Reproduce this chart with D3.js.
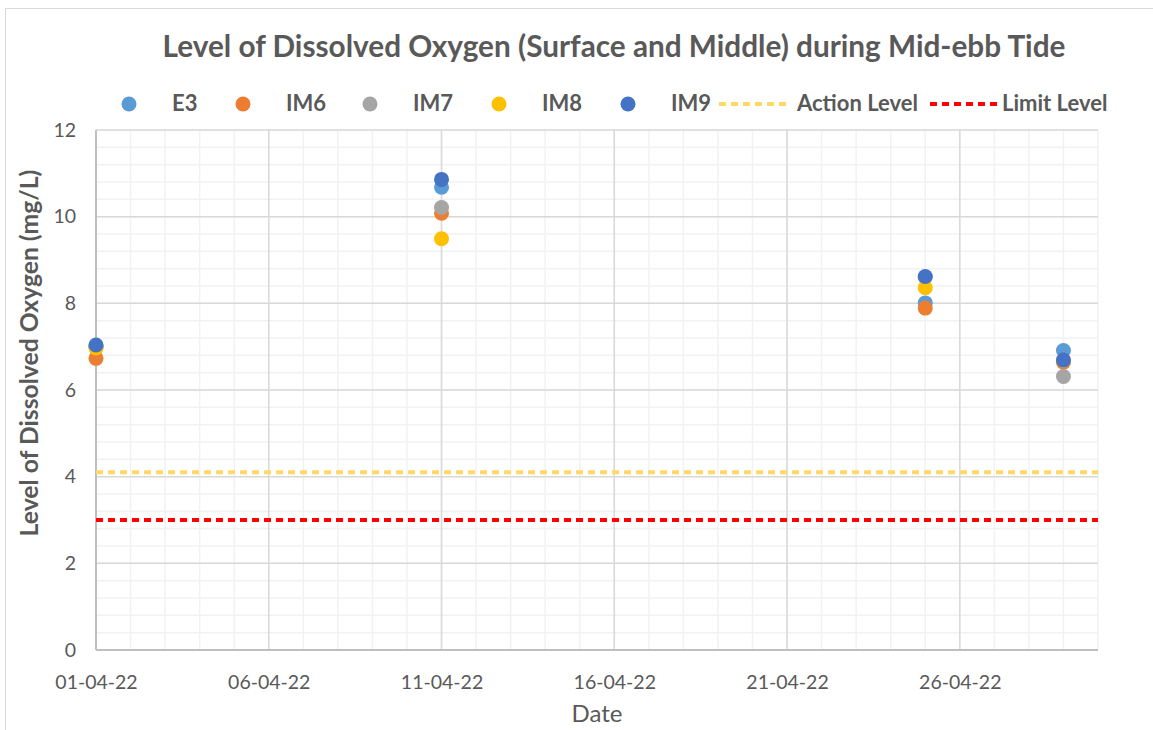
<!DOCTYPE html>
<html>
<head>
<meta charset="utf-8">
<script src="https://cdn.jsdelivr.net/npm/d3@7"></script>
<style>
  body { margin: 0; background: #fff; }
  text { font-family: Lato, "Open Sans", sans-serif; fill: #595959; }
</style>
</head>
<body>
<svg id="chart" width="1153" height="730"></svg>
<script>
// sampling dates
var dates = ["2022-04-01", "2022-04-11", "2022-04-25", "2022-04-29"];

// dissolved oxygen per station (mg/L)
var e3   = [7.00, 10.68, 8.01, 6.91];
var im6  = [6.73, 10.08, 7.89, 6.64];
var im7  = [6.98, 10.21, 8.60, 6.31];
var im8  = [6.97, 9.49, 8.36, 6.68];
var im9  = [7.04, 10.86, 8.62, 6.69];

var actionLevel = 4.1;
var limitLevel = 3;

var yTicks = [0, 2, 4, 6, 8, 10, 12];
var xTickLabels = ["01-04-22", "06-04-22", "11-04-22", "16-04-22", "21-04-22", "26-04-22"];

var stations = [
  {name: "E3",  values: e3,  color: "#5b9bd5"},
  {name: "IM6", values: im6, color: "#ed7d31"},
  {name: "IM7", values: im7, color: "#a5a5a5"},
  {name: "IM8", values: im8, color: "#ffc000"},
  {name: "IM9", values: im9, color: "#4472c4"}
];

var parse = d3.timeParse("%Y-%m-%d");
var parseTick = d3.timeParse("%d-%m-%y");
var fmt = d3.timeFormat("%d-%m-%y");

var svg = d3.select("#chart");

// shrink/grow a text so it spans the given width
function fitWidth(sel, w) {
  var fs = parseFloat(sel.style("font-size"));
  var len = sel.node().getComputedTextLength();
  sel.style("font-size", (fs * w / len) + "px");
}

// chart frame
svg.append("rect")
  .attr("x", 5.5).attr("y", 8.5)
  .attr("width", 1160).attr("height", 740)
  .attr("fill", "none")
  .attr("stroke", "#d9d9d9");

var pLeft = 96, pRight = 1098, pTop = 130, pBottom = 650;

var x = d3.scaleTime()
  .domain([parse("2022-04-01"), parse("2022-04-30")])
  .range([pLeft, pRight]);

var y = d3.scaleLinear()
  .domain([0, 12])
  .range([pBottom, pTop]);

// minor grid
var g = svg.append("g");
g.selectAll(".vminor")
  .data(d3.timeDay.range(parse("2022-04-02"), parse("2022-05-01")))
  .enter().append("line")
  .attr("x1", d => x(d)).attr("x2", d => x(d))
  .attr("y1", pTop).attr("y2", pBottom)
  .attr("stroke", "#f2f2f2").attr("stroke-width", 1.5);

g.selectAll(".hminor")
  .data(d3.range(0.4, 12.01, 0.4))
  .enter().append("line")
  .attr("x1", pLeft).attr("x2", pRight)
  .attr("y1", d => y(d)).attr("y2", d => y(d))
  .attr("stroke", "#f2f2f2").attr("stroke-width", 1.5);

// major grid
g.selectAll(".vmajor")
  .data(xTickLabels.slice(1).map(parseTick))
  .enter().append("line")
  .attr("x1", d => x(d)).attr("x2", d => x(d))
  .attr("y1", pTop).attr("y2", pBottom)
  .attr("stroke", "#d9d9d9").attr("stroke-width", 1.5);

g.selectAll(".hmajor")
  .data(yTicks.slice(1))
  .enter().append("line")
  .attr("x1", pLeft).attr("x2", pRight)
  .attr("y1", d => y(d)).attr("y2", d => y(d))
  .attr("stroke", "#d9d9d9").attr("stroke-width", 1.5);

// axes
var xAxis = d3.axisBottom(x)
  .tickValues(xTickLabels.map(parseTick))
  .tickFormat(fmt)
  .tickSize(0)
  .tickPadding(25);

var yAxis = d3.axisLeft(y)
  .tickValues(yTicks)
  .tickSize(0)
  .tickPadding(20);

var gx = svg.append("g").attr("transform", "translate(0," + pBottom + ")").call(xAxis);
var gy = svg.append("g").attr("transform", "translate(" + pLeft + ",0)").call(yAxis);

[gx, gy].forEach(a => {
  a.select(".domain").attr("stroke", "#bfbfbf").attr("stroke-width", 2);
  a.selectAll("text").style("font-size", "19.5px").attr("fill", "#595959");
});
gx.select(".domain").attr("d", "M" + pLeft + ",0H" + pRight);
gy.select(".domain").attr("d", "M0," + pTop + "V" + pBottom);

// threshold lines
svg.append("line")
  .attr("x1", pLeft).attr("x2", pRight)
  .attr("y1", y(actionLevel)).attr("y2", y(actionLevel))
  .attr("stroke", "#ffd966").attr("stroke-width", 4)
  .attr("stroke-dasharray", "7,5");

svg.append("line")
  .attr("x1", pLeft).attr("x2", pRight)
  .attr("y1", y(limitLevel)).attr("y2", y(limitLevel))
  .attr("stroke", "#ff0000").attr("stroke-width", 4)
  .attr("stroke-dasharray", "7,5");

// points
stations.forEach(s => {
  svg.append("g").selectAll("circle")
    .data(s.values)
    .enter().append("circle")
    .attr("cx", (d, i) => x(parse(dates[i])))
    .attr("cy", d => y(d))
    .attr("r", 7.5)
    .attr("fill", s.color);
});

// titles
var title = svg.append("text")
  .attr("x", 614).attr("y", 57)
  .attr("text-anchor", "middle")
  .style("font-size", "29px").style("font-weight", "bold")
  .text("Level of Dissolved Oxygen (Surface and Middle) during Mid-ebb Tide");
fitWidth(title, 903);

var yTitle = svg.append("text")
  .attr("transform", "translate(38," + 353 + ") rotate(-90)")
  .attr("text-anchor", "middle")
  .style("font-size", "24px").style("font-weight", "bold")
  .text("Level of Dissolved Oxygen (mg/L)");
fitWidth(yTitle, 367);

svg.append("text")
  .attr("x", 597).attr("y", 722)
  .attr("text-anchor", "middle")
  .style("font-size", "24px")
  .text("Date");

// legend
var legY = 104, legBase = 111;
var legDots = [129, 243, 370, 499, 628];
stations.forEach((s, i) => {
  svg.append("circle").attr("cx", legDots[i]).attr("cy", legY).attr("r", 7.5).attr("fill", s.color);
  svg.append("text").attr("x", legDots[i] + 43).attr("y", legBase)
    .style("font-size", "22px").style("font-weight", "bold").text(s.name);
});

var legLines = [
  {x1: 719, x2: 791, tx: 797, name: "Action Level", color: "#ffd966"},
  {x1: 930, x2: 997, tx: 1002, name: "Limit Level", color: "#ff0000"}
];
legLines.forEach(l => {
  svg.append("line").attr("x1", l.x1).attr("x2", l.x2)
    .attr("y1", legY).attr("y2", legY)
    .attr("stroke", l.color).attr("stroke-width", 4).attr("stroke-dasharray", "7,5");
  svg.append("text").attr("x", l.tx).attr("y", legBase)
    .style("font-size", "22px").style("font-weight", "bold").text(l.name);
});
</script>
</body>
</html>
